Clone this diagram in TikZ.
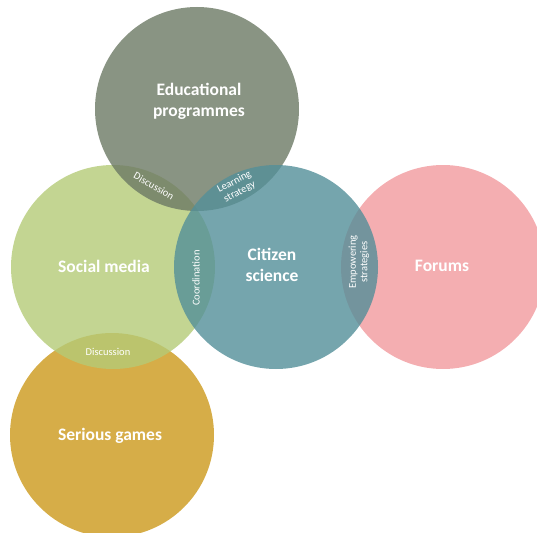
\documentclass[tikz,border=0pt]{standalone}
\usepackage{fontspec}
\setmainfont{Carlito}
\definecolor{eduC}{RGB}{108,121,100}
\definecolor{socC}{RGB}{180,203,119}
\definecolor{citC}{RGB}{83,143,153}
\definecolor{forC}{RGB}{241,154,158}
\definecolor{gamC}{RGB}{204,153,26}
\begin{document}
\begin{tikzpicture}[x=1pt,y=-1pt,
  bubble/.style={circle, inner sep=0pt, minimum size=204pt, fill opacity=0.8},
  bigtxt/.style={text=white, font=\fontsize{17.5}{21}\selectfont\bfseries, align=center, inner sep=0pt},
  smalltxt/.style={text=white, font=\fontsize{10.5}{11.5}\selectfont, align=center, inner sep=0pt}]
\useasboundingbox (0,0) rectangle (537,532);
\begin{scope}
\clip (0,0) rectangle (537,532);
% circles, drawn bottom to top
\node[bubble, fill=gamC] (games) at (112,435) {};
\node[bubble, fill=forC] (forums) at (443,267) {};
\node[bubble, fill=socC] (social) at (113,267) {};
\node[bubble, fill=eduC] (edu) at (197,109) {};
\node[bubble, fill=citC] (citizen) at (276,267) {};
\end{scope}
% main labels
\node[bigtxt] (eduL) at (199,101) {Educational\\programmes};
\node[bigtxt] (socL) at (104,266) {Social media};
\node[bigtxt] (citL) at (272,265) {Citizen\\science};
\node[bigtxt] (forL) at (442,266) {Forums};
\node[bigtxt] (gamL) at (110,436) {Serious games};
% overlap labels
\node[smalltxt, rotate=-30] (discA) at (154,186) {Discussion};
\node[smalltxt, rotate=28] (learn) at (237,187) {Learning\\strategy};
\node[smalltxt, rotate=90] (coord) at (196,278) {Coordination};
\node[smalltxt, rotate=90] (empow) at (359,262) {Empowering\\strategies};
\node[smalltxt] (discB) at (108,352) {Discussion};
\end{tikzpicture}
\end{document}
